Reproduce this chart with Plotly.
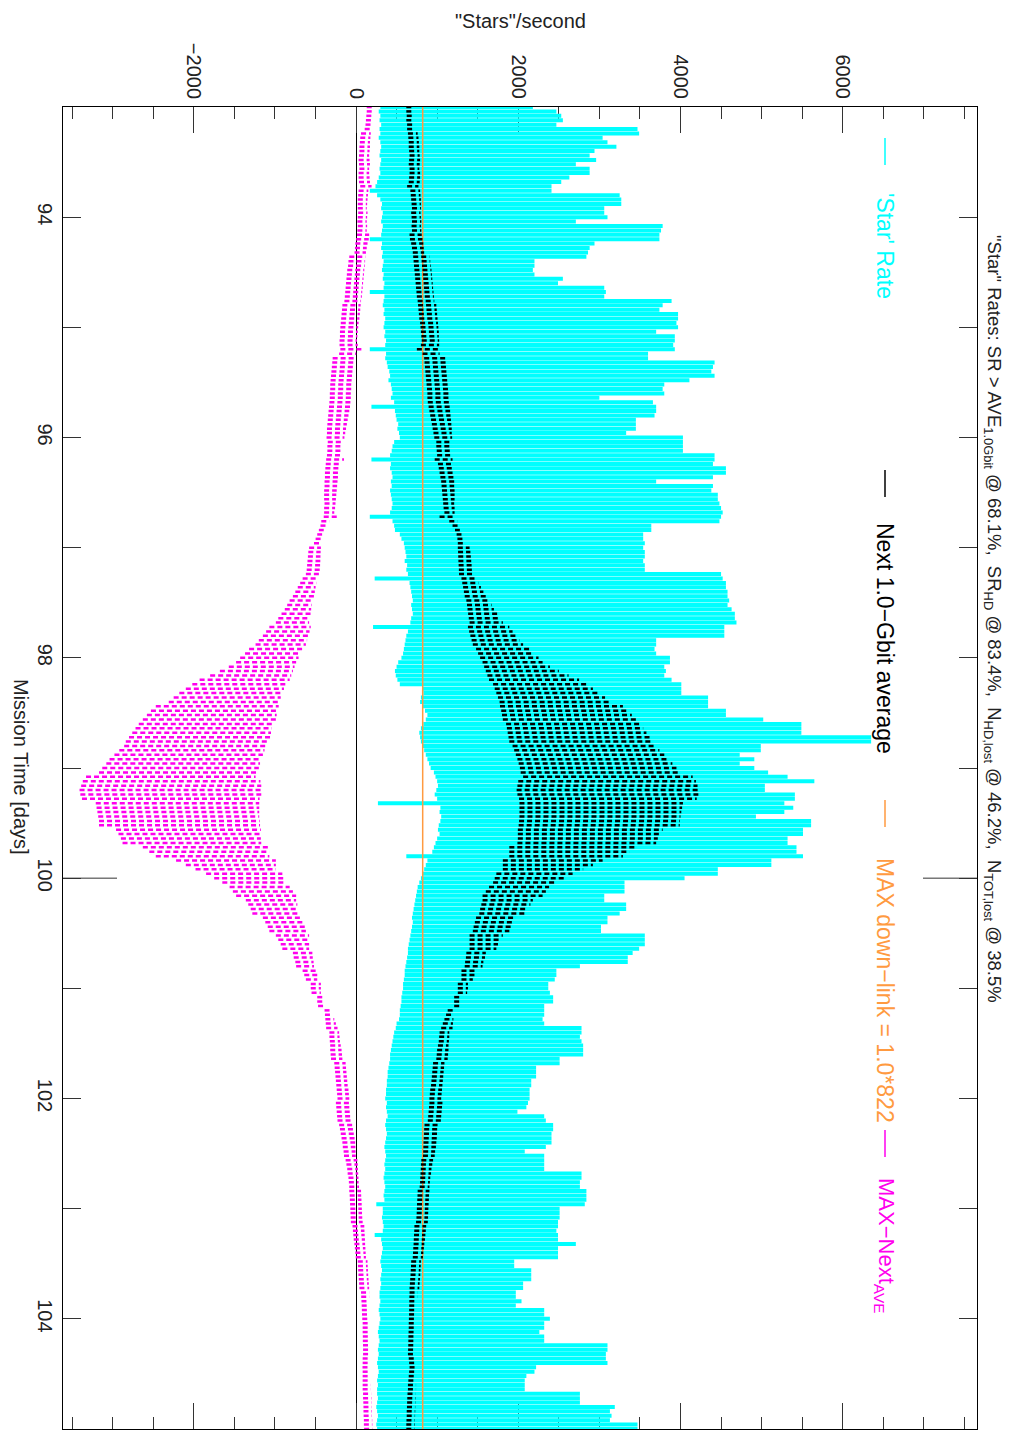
import plotly.graph_objects as go

# ---------------- data ----------------
T_START = 93.0          # first sample, mission time [days]
T_STEP = 0.04           # sample spacing [days]
MAX_DOWNLINK = 822      # "MAX down-link = 1.0*822"

star_rate_hi = [
    2180, 2470, 2530, 2550, 2470, 3470, 3490, 3040, 3100, 3210,
    2940, 2880, 2960, 2710, 2880, 2880, 2630, 2530, 2410, 2410,
    3250, 3270, 3270, 3060, 3060, 3100, 2710, 3780, 3760, 3740,
    3740, 2940, 2880, 2860, 2840, 2200, 2200, 2180, 2200, 2550,
    2490, 3060, 3080, 3060, 3890, 3780, 3740, 3970, 3970, 3950,
    3970, 3700, 3930, 3930, 3910, 3930, 3600, 3600, 4420, 4400,
    4380, 4420, 4110, 3800, 3780, 3800, 3000, 3660, 3700, 3700,
    3680, 3450, 3450, 3450, 3330, 4030, 4030, 4030, 4030, 4420,
    4420, 4400, 4560, 4560, 4400, 3700, 4400, 4380, 4460, 4460,
    4480, 4500, 4520, 4500, 4480, 3640, 3640, 3540, 3540, 3560,
    3540, 3560, 3560, 3540, 3560, 3560, 4500, 4520, 4560, 4560,
    4580, 4580, 4600, 4580, 4630, 4670, 4670, 4690, 4540, 4540,
    4540, 3700, 3700, 3680, 3700, 3870, 3870, 3800, 3820, 3800,
    3890, 4010, 4010, 4010, 4340, 4340, 4340, 4560, 4560, 5020,
    5490, 5490, 5490, 6350, 6350, 4990, 4990, 4730, 4910, 4730,
    4910, 5080, 5320, 5650, 5040, 5040, 5410, 5410, 5280, 5390,
    5280, 4930, 5610, 5610, 5510, 5510, 5320, 5320, 5430, 5430,
    5510, 5120, 5120, 4460, 4460, 4050, 3310, 3310, 3310, 3060,
    3060, 3330, 3330, 3250, 3100, 3100, 3020, 3020, 3560, 3560,
    3560, 3490, 3410, 3350, 3350, 2760, 2470, 2470, 2450, 2370,
    2370, 2390, 2430, 2430, 2320, 2320, 2320, 2300, 2320, 2780,
    2780, 2760, 2780, 2800, 2800, 2800, 2510, 2510, 2220, 2220,
    2220, 2160, 2160, 2140, 2140, 2140, 2120, 2100, 1990, 2320,
    2340, 2430, 2430, 2410, 2410, 2410, 2340, 2080, 2320, 2320,
    2320, 2320, 2780, 2780, 2760, 2760, 2840, 2840, 2840, 2820,
    2510, 2510, 2510, 2490, 2490, 2470, 2490, 2490, 2710, 2490,
    2490, 2490, 1950, 1950, 2160, 2160, 2160, 2060, 2060, 1970,
    1970, 2040, 1970, 2320, 2320, 2390, 2320, 2320, 2260, 2320,
    2320, 3100, 3100, 3080, 3080, 3100, 2220, 2200, 2100, 2080,
    2080, 2080, 2760, 2760, 2760, 3190, 3130, 3150, 3130, 3470,
    3470,
]

star_rate_lo = [
    300, 280, 300, 290, 310, 290, 300, 280, 300, 310,
    300, 290, 310, 300, 290, 300, 280, 260, 240, 170,
    260, 300, 320, 310, 330, 320, 310, 330, 320, 310,
    170, 320, 310, 330, 320, 340, 330, 320, 340, 330,
    350, 340, 170, 350, 340, 330, 350, 340, 360, 350,
    340, 360, 350, 370, 360, 170, 370, 360, 380, 390,
    410, 420, 400, 430, 440, 450, 430, 470, 190, 480,
    490, 500, 520, 510, 530, 540,
    470, 450, 440, 420, 190, 430, 420, 440, 450, 430, 440, 420, 430, 440,
    450, 440, 420, 170, 450, 470, 480,
    540, 560, 590, 600, 610, 620, 600, 630, 620, 640, 230,
    660, 670, 680, 690, 700, 680, 690, 700, 680, 670, 210,
    640, 620, 610, 600, 590, 580, 560,
    520, 500, 480, 490, 510, 540,
    820, 830, 800, 790, 820, 850, 880, 860, 830, 800, 780, 790, 800, 820,
    840, 860, 880, 900, 920,
    960, 980, 1000, 1010, 990, 970, 1000,
    270, 1040, 1030, 1050, 1040, 1020, 1010, 1030, 1000, 980, 960, 940,
    620, 880, 860, 840, 820, 800,
    780, 760, 750, 740, 730, 720, 710, 700, 690,
    700, 690, 680, 670, 660, 650, 640, 640, 630, 620,
    610, 600, 600, 590, 580, 580, 570, 560, 560, 550, 540, 540, 530,
    500, 490, 470, 460, 450, 440, 430, 420, 420, 410, 400, 390, 390, 380,
    380, 370, 370, 360,
    380, 370, 380, 390, 370, 360, 370, 380, 370, 360, 350, 360, 370, 360,
    350, 360, 350, 340, 350, 360, 350, 340, 350, 250, 330,
    330, 320, 330, 340, 330, 230, 310, 320, 330, 320, 310, 300, 310, 320,
    310, 300, 310, 300, 290,
    290, 300, 290, 280, 290, 300, 290, 280, 270, 280, 290, 280, 270, 280,
    270, 260, 270, 280, 270, 260, 270, 260,
    260, 270, 260, 250, 260, 270, 260, 250, 260,
]

next_avg_lo = [
    620, 620, 625, 620, 630, 630, 640, 645, 650, 650,
    655, 660, 655, 650, 660, 660, 655, 650, 630, 670,
    675, 680, 685, 690, 680, 685, 690, 685, 690, 660,
    665, 680, 690, 700, 705, 710, 715, 720, 725, 730,
    735, 740, 745, 750, 760, 765, 770, 775, 780, 790,
    795, 800, 805, 810, 800, 750, 820, 840, 845, 850,
    855, 860, 865, 870, 875, 880, 880, 885, 895, 905,
    915, 925, 935, 945, 955, 965, 990, 990, 995, 1000,
    970, 1010, 1020, 1030, 1040, 1050, 1055, 1060, 1065, 1070,
    1075, 1080, 1090, 1030, 1150, 1190, 1220, 1240, 1250, 1255,
    1255, 1258, 1260, 1262, 1265, 1268, 1270, 1300, 1310, 1320,
    1330, 1340, 1360, 1368, 1375, 1382, 1390, 1400, 1380, 1395,
    1410, 1425, 1440, 1480, 1505, 1530, 1560, 1580, 1600, 1620,
    1640, 1690, 1710, 1730, 1750, 1770, 1775, 1790, 1800, 1810,
    1850, 1860, 1870, 1880, 1890, 1930, 1950, 1970, 1990, 2005,
    2020, 2030, 2060, 2000, 1990, 1980, 1990, 2010, 2015, 2015,
    2015, 2015, 2010, 2005, 1995, 1995, 1995, 1990, 1890, 1890,
    1890, 1810, 1810, 1810, 1730, 1710, 1690, 1640, 1600, 1560,
    1560, 1545, 1530, 1520, 1480, 1465, 1450, 1440, 1400, 1400,
    1400, 1400, 1360, 1355, 1345, 1340, 1300, 1300, 1300, 1255,
    1255, 1255, 1210, 1210, 1210, 1130, 1110, 1090, 1070, 1050,
    1030, 1025, 1020, 1010, 1000, 995, 990, 950, 945, 940,
    935, 930, 925, 915, 910, 905, 905, 900, 895, 890,
    885, 845, 840, 838, 835, 832, 830, 828, 825, 805,
    800, 798, 795, 792, 790, 785, 760, 758, 755, 752,
    750, 748, 745, 740, 720, 718, 715, 712, 710, 706,
    703, 700, 680, 678, 675, 672, 668, 664, 660, 660,
    658, 657, 656, 655, 654, 652, 650, 650, 648, 646,
    645, 644, 642, 640, 650, 655, 660, 655, 650, 645,
    640, 640, 635, 632, 630, 628, 625, 625, 622, 620,
    620,
]

next_avg_hi = [
    690, 690, 695, 700, 705, 715, 760, 770, 775, 780,
    780, 785, 790, 785, 780, 790, 790, 785, 770, 790,
    795, 800, 800, 800, 795, 800, 805, 800, 805, 810,
    820, 830, 835, 840, 905, 915, 920, 930, 935, 940,
    945, 950, 955, 960, 965, 990, 995, 1000, 1005, 1010,
    1015, 1020, 1020, 1025, 1025, 1015, 1030, 1110, 1115, 1120,
    1125, 1130, 1135, 1140, 1140, 1145, 1145, 1150, 1155, 1160,
    1165, 1170, 1175, 1180, 1180, 1185, 1170, 1175, 1175, 1180,
    1190, 1195, 1200, 1205, 1205, 1210, 1210, 1215, 1215, 1215,
    1210, 1215, 1215, 1220, 1250, 1260, 1280, 1300, 1320, 1340,
    1400, 1410, 1415, 1420, 1425, 1430, 1440, 1480, 1510, 1540,
    1570, 1600, 1640, 1670, 1700, 1740, 1780, 1810, 1890, 1930,
    1970, 2020, 2060, 2140, 2190, 2250, 2300, 2390, 2500, 2620,
    2750, 2840, 2920, 3000, 3070, 3130, 3290, 3350, 3400, 3450,
    3500, 3540, 3580, 3620, 3660, 3680, 3740, 3800, 3860, 3900,
    3950, 3990, 4150, 4190, 4210, 4230, 4220, 4200, 4030, 4020,
    4010, 4000, 3990, 3990, 3780, 3750, 3720, 3700, 3450, 3370,
    3290, 3040, 2920, 2800, 2670, 2570, 2470, 2380, 2340, 2300,
    2180, 2150, 2120, 2100, 1970, 1940, 1910, 1890, 1810, 1780,
    1750, 1730, 1600, 1590, 1570, 1560, 1480, 1460, 1440, 1380,
    1380, 1370, 1300, 1300, 1290, 1210, 1205, 1200, 1195, 1190,
    1150, 1150, 1145, 1140, 1140, 1135, 1130, 1090, 1085, 1080,
    1075, 1070, 1065, 1060, 1055, 1050, 1070, 1065, 1060, 1055,
    1050, 1030, 1020, 1010, 1000, 990, 985, 975, 970, 950,
    940, 930, 925, 915, 910, 905, 905, 900, 898, 895,
    892, 890, 888, 885, 865, 860, 855, 850, 842, 836,
    830, 825, 800, 798, 795, 792, 788, 784, 780, 760,
    758, 755, 752, 750, 748, 745, 740, 740, 740, 738,
    738, 736, 735, 735, 740, 740, 742, 740, 740, 740,
    740, 740, 735, 735, 732, 730, 730, 728, 725, 725,
    722,
]

# MAX - Next_AVE (the chart's own definition)
max_minus_lo = [MAX_DOWNLINK - h for h in next_avg_hi]
max_minus_hi = [MAX_DOWNLINK - l for l in next_avg_lo]

n = min(len(star_rate_hi), len(star_rate_lo), len(next_avg_lo), len(next_avg_hi))
mission_time = [round(T_START + T_STEP * i, 3) for i in range(n)]
T_MIN, T_MAX = 93.0, 105.0

# ---------------- styling ----------------
CYAN = "#00FFFF"
ORANGE = "#FF9A40"
MAGENTA = "#FF00EE"
TXT = "#222222"
FONT = "Liberation Sans"

# page body has an 8 px default margin -> figure is drawn from (8, 8)
OFF = 8
W, H = 1013 - OFF, 1430 - OFF
# plot area in screen pixels
SX0, SX1, SY0, SY1 = 63, 977, 107, 1429
ML, MT = SX0 - OFF, SY0 - OFF
MR = W - ML - (SX1 - SX0)
MB = H - MT - (SY1 - SY0)


def px_x(X):
    return (X - SX0) / (SX1 - SX0)


def px_y(Y):
    return (SY1 - Y) / (SY1 - SY0)


def segments(lo, hi):
    xs, ys = [], []
    for t, a, b in zip(mission_time, lo, hi):
        xs += [a, b, None]
        ys += [t, t, None]
    return xs, ys


fig = go.Figure()

cx, cy = segments(star_rate_lo[:n], star_rate_hi[:n])
fig.add_trace(go.Scatter(x=cx, y=cy, mode="lines",
                         line=dict(color=CYAN, width=4), hoverinfo="skip"))

fig.add_trace(go.Scatter(x=[MAX_DOWNLINK, MAX_DOWNLINK], y=[T_MIN, T_MAX], mode="lines",
                         line=dict(color=ORANGE, width=1.5), hoverinfo="skip"))

mx, my = segments(max_minus_lo[:n], max_minus_hi[:n])
fig.add_trace(go.Scatter(x=mx, y=my, mode="lines",
                         line=dict(color=MAGENTA, width=2.5, dash="5px,3px"), hoverinfo="skip"))

bx, by = segments(next_avg_lo[:n], next_avg_hi[:n])
fig.add_trace(go.Scatter(x=bx, y=by, mode="lines",
                         line=dict(color="black", width=2.5, dash="5px,3px"), hoverinfo="skip"))

fig.update_layout(
    width=W, height=H,
    margin=dict(l=ML, r=MR, t=MT, b=MB, pad=0),
    paper_bgcolor="white", plot_bgcolor="white",
    showlegend=False,
    font=dict(family=FONT, color=TXT, size=20),
    xaxis=dict(
        range=[-3612, 7655], side="top",
        showline=True, linecolor="black", linewidth=1, mirror="ticks",
        ticks="inside", ticklen=26, tickwidth=1, tickcolor="#333",
        tick0=0, dtick=2000, tickangle=90,
        tickfont=dict(size=20, color=TXT, family=FONT),
        minor=dict(ticks="inside", ticklen=12, tickwidth=1, tickcolor="#333", dtick=500),
        showgrid=False, zeroline=True, zerolinecolor="black", zerolinewidth=1,
        layer="below traces",
    ),
    yaxis=dict(
        range=[T_MAX, T_MIN],
        showline=True, linecolor="black", linewidth=1, mirror="ticks",
        ticks="inside", ticklen=18, tickwidth=1, tickcolor="#333",
        tick0=0, dtick=2, tickangle=90,
        tickfont=dict(size=20, color=TXT, family=FONT),
        minor=dict(ticks="inside", ticklen=18, tickwidth=1, tickcolor="#333", dtick=1),
        showgrid=False, zeroline=False,
        layer="below traces",
    ),
)

# longer decade tick at day 100 (both sides)
for anchor, x0, x1 in [(0, 0, 54), (1, -54, 0)]:
    fig.add_shape(type="line", xref="paper", yref="y", xsizemode="pixel", xanchor=anchor,
                  x0=x0, x1=x1, y0=100, y1=100, line=dict(color="#333", width=1))


def note(text, X, Y, size, color=TXT, angle=0):
    return dict(text=text, x=px_x(X), y=px_y(Y), xref="paper", yref="paper",
                xanchor="center", yanchor="middle", showarrow=False, textangle=angle,
                borderpad=0, font=dict(size=size, color=color, family=FONT))


ann = [
    note('"Stars"/second', 520, 21, 20),
    note("Mission Time [days]", 21, 767, 20, angle=90),
    note('"Star" Rates: SR &gt; AVE<sub>1.0Gbit</sub> @ 68.1%,  SR<sub>HD</sub> @ 83.4%,  '
         'N<sub>HD,lost</sub> @ 46.2%,  N<sub>TOT,lost</sub> @ 38.5%', 993, 619, 18.5, angle=90),
]

legend_items = [
    (CYAN, (138, 165), "'Star' Rate", 246),
    ("black", (470, 497), "Next 1.0\u2212Gbit average", 638),
    (ORANGE, (800, 827), "MAX down\u2212link = 1.0*822", 990),
    (MAGENTA, (1130, 1157), "MAX\u2212Next<sub>AVE</sub>", 1245),
]
for col, (ya, yb), label, yc in legend_items:
    fig.add_shape(type="line", xref="paper", yref="paper",
                  x0=px_x(885), x1=px_x(885), y0=px_y(ya), y1=px_y(yb),
                  line=dict(color=col, width=1.5))
    ann.append(note(label, 885, yc, 23 if col != MAGENTA else 22, color=col, angle=90))

fig.update_layout(annotations=ann)
fig.write_html("out.html")
